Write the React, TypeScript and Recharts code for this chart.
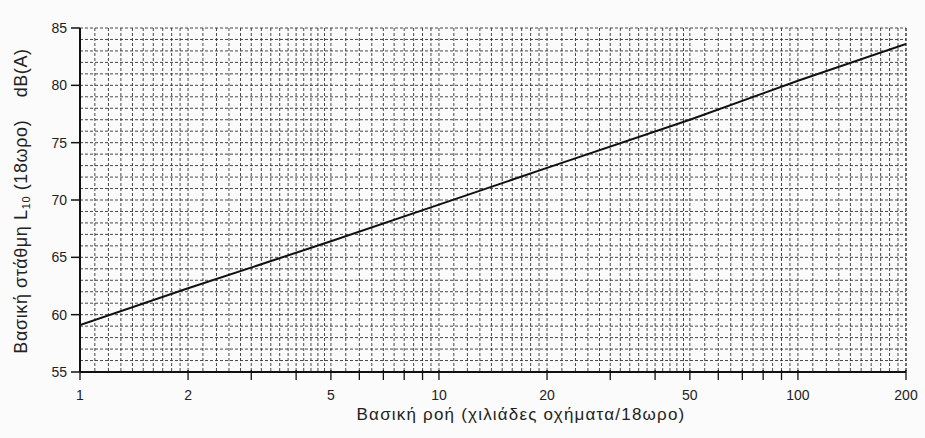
import { LineChart, Line, XAxis, YAxis, CartesianGrid } from "recharts";

// basic flow (thousand vehicles / 18h) vs basic noise level L10 (18h), dB(A)
const flow = [1, 2, 5, 10, 20, 50, 100, 200];
const level = [59.1, 62.3, 66.4, 69.6, 72.8, 77.0, 80.4, 83.6];

const xMajorTicks = [1, 2, 5, 10, 20, 50, 100, 200];
const xMinorTicks = [3, 4, 6, 7, 8, 9, 30, 40, 60, 70, 80, 90];
const yTicks = [55, 60, 65, 70, 75, 80, 85];

// log-paper subdivisions within one decade
const decadeSteps = [
  1, 1.1, 1.2, 1.3, 1.4, 1.5, 1.6, 1.7, 1.8, 1.9, 2, 2.2, 2.4, 2.6, 2.8, 3,
  3.2, 3.4, 3.6, 3.8, 4, 4.2, 4.4, 4.6, 4.8, 5, 5.5, 6, 6.5, 7, 7.5, 8, 8.5, 9,
  9.5,
];
const decades = [1, 10, 100];
const yGridValues = [
  56, 57, 58, 59, 60, 61, 62, 63, 64, 65, 66, 67, 68, 69, 70, 71, 72, 73, 74,
  75, 76, 77, 78, 79, 80, 81, 82, 83, 84, 85,
];

const data = flow.map((f, i) => ({ flow: f, level: level[i] }));
const xTicks = [...xMajorTicks, ...xMinorTicks].sort((a, b) => a - b);
const xGridValues = decades
  .flatMap((d) => decadeSteps.map((s) => +(s * d).toFixed(2)))
  .filter((v) => v <= 200)
  .concat([200]);

const FONT = "'Liberation Sans', Arial, sans-serif";

function XTick(props: any) {
  const { x, y, payload } = props;
  const major = xMajorTicks.includes(payload.value);
  return (
    <g>
      <line x1={x} y1={y - 2} x2={x} y2={y + 8} stroke="#111" strokeWidth={1.3} />
      {major && (
        <text
          x={x}
          y={y + 28}
          textAnchor="middle"
          fontSize={14}
          fontFamily={FONT}
          fill="#222"
        >
          {payload.value}
        </text>
      )}
    </g>
  );
}

function YTitle() {
  const cx = 21;
  const cy = 201;
  return (
    <text
      x={cx}
      y={cy}
      transform={`rotate(-90, ${cx}, ${cy})`}
      textAnchor="middle"
      dominantBaseline="central"
      fontSize={18}
      letterSpacing={0.6}
      fontFamily={FONT}
      fill="#222"
    >
      Βασική στάθμη L
      <tspan fontSize={11} dy={5}>
        10
      </tspan>
      <tspan dy={-5}>{" (18ωρο)\u00A0\u00A0\u00A0\u00A0dB(A)"}</tspan>
    </text>
  );
}

function XTitle(props: any) {
  const { viewBox } = props;
  return (
    <text
      x={viewBox.x + viewBox.width / 2 + 28}
      y={viewBox.y + 48}
      textAnchor="middle"
      fontSize={17}
      letterSpacing={1.2}
      fontFamily={FONT}
      fill="#222"
    >
      Βασική ροή (χιλιάδες οχήματα/18ωρο)
    </text>
  );
}

export default function App() {
  return (
    <div
      style={{
        position: "absolute",
        left: 0,
        top: 0,
        width: 925,
        height: 438,
        background: "#fbfbfb",
      }}
    >
      <LineChart
        width={925}
        height={438}
        data={data}
        margin={{ top: 28, right: 19, left: 0, bottom: 0 }}
      >
        <CartesianGrid
          horizontalValues={yGridValues}
          verticalValues={xGridValues}
          stroke="#333"
          strokeWidth={0.9}
          strokeDasharray="3 2"
        />
        <XAxis
          dataKey="flow"
          type="number"
          scale="log"
          domain={[1, 200]}
          ticks={xTicks}
          interval={0}
          allowDataOverflow
          height={66}
          tickSize={0}
          tickMargin={0}
          tickLine={false}
          tick={<XTick />}
          axisLine={{ stroke: "#111", strokeWidth: 2 }}
          label={<XTitle />}
        />
        <YAxis
          type="number"
          domain={[55, 85]}
          ticks={yTicks}
          interval={0}
          width={80}
          tickSize={9}
          tickMargin={4}
          tickLine={{ stroke: "#111", strokeWidth: 1.5 }}
          axisLine={{ stroke: "#111", strokeWidth: 2 }}
          tick={{ fontSize: 14, fontFamily: FONT, fill: "#222" }}
          label={<YTitle />}
        />
        <Line
          type="linear"
          dataKey="level"
          stroke="#111"
          strokeWidth={2}
          dot={false}
          isAnimationActive={false}
        />
      </LineChart>
    </div>
  );
}
